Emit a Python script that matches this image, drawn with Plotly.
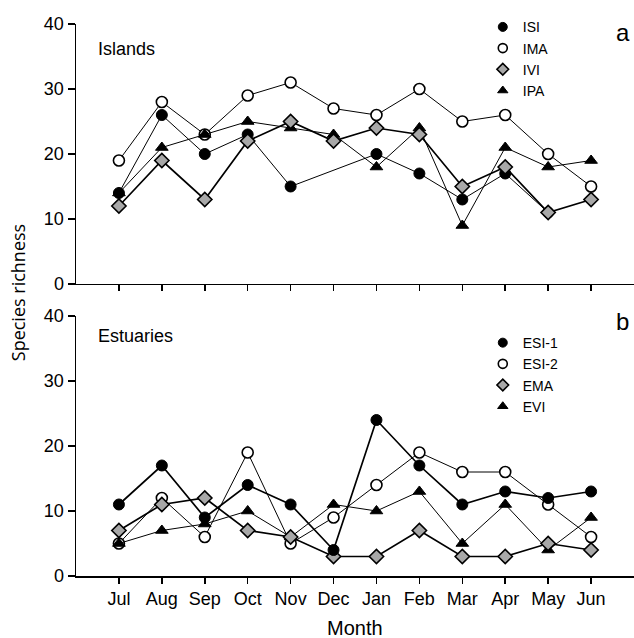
import plotly.graph_objects as go

months = ["Jul", "Aug", "Sep", "Oct", "Nov", "Dec", "Jan", "Feb", "Mar", "Apr", "May", "Jun"]

# Islands (panel a)
isi = [14, 26, 20, 23, 15, None, 20, 17, 13, 17, 11, None]
ima = [19, 28, 23, 29, 31, 27, 26, 30, 25, 26, 20, 15]
ivi = [12, 19, 13, 22, 25, 22, 24, 23, 15, 18, 11, 13]
ipa = [14, 21, 23, 25, 24, 23, 18, 24, 9, 21, 18, 19]

# Estuaries (panel b)
esi1 = [11, 17, 9, 14, 11, 4, 24, 17, 11, 13, 12, 13]
esi2 = [5, 12, 6, 19, 5, 9, 14, 19, 16, 16, 11, 6]
ema = [7, 11, 12, 7, 6, 3, 3, 7, 3, 3, 5, 4]
evi = [5, 7, 8, 10, 6, 11, 10, 13, 5, 11, 4, 9]

y_ticks = [0, 10, 20, 30, 40]

FONT = "Liberation Sans, Arial, Helvetica, sans-serif"
TITLE_FONT = "Open Sans, Noto Sans, sans-serif"
GRAY = "#a8a8a8"

styles = {
    "filled": dict(symbol="circle", color="black", line=dict(color="black", width=1)),
    "open": dict(symbol="circle", color="white", line=dict(color="black", width=1.6)),
    "diamond": dict(symbol="diamond", color=GRAY, line=dict(color="black", width=1.6)),
    "tri": dict(symbol="triangle-up", color="black", line=dict(color="black", width=1)),
}

fig = go.Figure()
x_idx = list(range(len(months)))

def add_series(name, vals, style, lw, xa, ya):
    fig.add_trace(go.Scatter(
        x=x_idx, y=vals, mode="lines+markers", connectgaps=True,
        line=dict(color="black", width=lw),
        marker=dict(size=11, **styles[style]),
        xaxis=xa, yaxis=ya, showlegend=False, name=name, hoverinfo="skip"))

def add_legend(name, style, legend):
    fig.add_trace(go.Scatter(
        x=[None], y=[None], mode="markers", name=name,
        marker=dict(size=9, **styles[style]),
        xaxis="x", yaxis="y", legend=legend, showlegend=True))

# top panel
add_series("IMA", ima, "open", 1, "x", "y")
add_series("ISI", isi, "filled", 1, "x", "y")
add_series("IPA", ipa, "tri", 1, "x", "y")
add_series("IVI", ivi, "diamond", 1.7, "x", "y")
# bottom panel
add_series("ESI-2", esi2, "open", 1, "x2", "y2")
add_series("EVI", evi, "tri", 1, "x2", "y2")
add_series("EMA", ema, "diamond", 1.7, "x2", "y2")
add_series("ESI-1", esi1, "filled", 1.7, "x2", "y2")

for n, s in [("ISI", "filled"), ("IMA", "open"), ("IVI", "diamond"), ("IPA", "tri")]:
    add_legend(n, s, "legend")
for n, s in [("ESI-1", "filled"), ("ESI-2", "open"), ("EMA", "diamond"), ("EVI", "tri")]:
    add_legend(n, s, "legend2")

xcommon = dict(range=[-1, 12], tickvals=x_idx, showline=True, linecolor="black", linewidth=1.5,
               ticks="outside", ticklen=6, tickwidth=1.5, tickcolor="black", showgrid=False,
               zeroline=False, fixedrange=True)
ycommon = dict(range=[0, 40], tickvals=y_ticks, showline=True, linecolor="black", linewidth=1.5,
               ticks="outside", ticklen=7, tickwidth=1.5, tickcolor="black", showgrid=False,
               zeroline=False, tickfont=dict(size=18, color="black"), fixedrange=True)

legend_common = dict(font=dict(family=FONT, size=14, color="black"), bgcolor="rgba(0,0,0,0)",
                     borderwidth=0, itemsizing="trace", xanchor="left", yanchor="top",
                     tracegroupgap=0, itemwidth=30)

fig.update_layout(
    template="none",
    width=634, height=638,
    margin=dict(l=76, r=0, t=24, b=62, autoexpand=False),
    paper_bgcolor="white", plot_bgcolor="white",
    font=dict(family=FONT, color="black", size=16),
    xaxis=dict(domain=[0, 1], anchor="y", showticklabels=False, **xcommon),
    yaxis=dict(domain=[0.529, 1], anchor="x", **ycommon),
    xaxis2=dict(domain=[0, 1], anchor="y2", ticktext=months, showticklabels=True,
                tickfont=dict(size=18, color="black"), **xcommon),
    yaxis2=dict(domain=[0, 0.471], anchor="x2", **ycommon),
    legend=dict(x=0.729, y=1.023, **legend_common),
    legend2=dict(x=0.729, y=0.451, **legend_common),
    annotations=[
        dict(text="Islands", xref="paper", yref="paper", x=0.036, y=0.955, xanchor="left",
             yanchor="middle", showarrow=False, font=dict(size=18, color="black")),
        dict(text="Estuaries", xref="paper", yref="paper", x=0.036, y=0.434, xanchor="left",
             yanchor="middle", showarrow=False, font=dict(size=18, color="black")),
        dict(text="a", xref="paper", yref="paper", x=0.98, y=0.985, xanchor="center",
             yanchor="middle", showarrow=False, font=dict(size=24, color="black")),
        dict(text="b", xref="paper", yref="paper", x=0.98, y=0.461, xanchor="center",
             yanchor="middle", showarrow=False, font=dict(size=24, color="black")),
        dict(text="Species richness", xref="paper", yref="paper", x=-0.104, y=0.514,
             xanchor="center", yanchor="middle", textangle=-90, showarrow=False,
             font=dict(size=18, family=TITLE_FONT, color="black")),
        dict(text="Month", xref="paper", yref="paper", x=0.5, y=-0.094, xanchor="center",
             yanchor="middle", showarrow=False, font=dict(size=20, color="black")),
    ],
)

fig.write_html("out.html", config={"displayModeBar": False, "staticPlot": True},
               post_script="document.body.style.margin='0';document.body.style.overflow='hidden';")
